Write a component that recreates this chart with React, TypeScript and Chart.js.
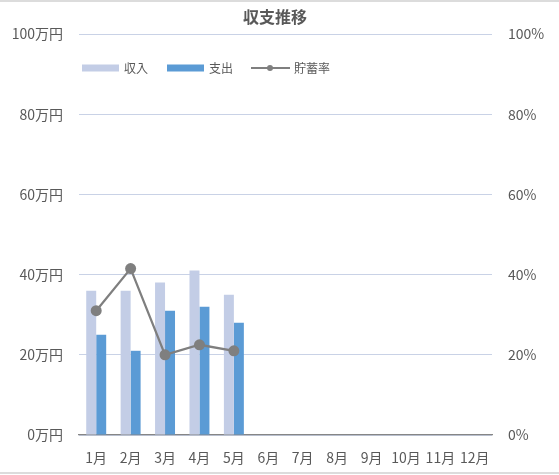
import React, { useEffect, useRef } from "react";
import { Chart, registerables } from "chart.js";

Chart.register(...registerables);

const categories = ["1月", "2月", "3月", "4月", "5月", "6月", "7月", "8月", "9月", "10月", "11月", "12月"];
const income = [36, 36, 38, 41, 35, null, null, null, null, null, null, null];
const expense = [25, 21, 31, 32, 28, null, null, null, null, null, null, null];
const savingsRate = [31, 41.5, 20, 22.5, 21, null, null, null, null, null, null, null];
const seriesNames = ["収入", "支出", "貯蓄率"];
const titleText = "収支推移";

const FONT = '"Noto Sans CJK JP", "Noto Sans", sans-serif';
const TEXT = "#595959";
const C_INCOME = "#c3cde6";
const C_EXPENSE = "#5b9bd5";
const C_LINE = "#7f7f7f";

const decorPlugin = {
  id: "decor",
  beforeDraw(chart: any) {
    const { ctx, width } = chart;
    ctx.save();
    ctx.fillStyle = "#ffffff";
    ctx.fillRect(0, 0, width, chart.height);
    ctx.strokeStyle = "#dcdcdc";
    ctx.lineWidth = 2;
    ctx.beginPath();
    ctx.moveTo(0, 1);
    ctx.lineTo(width, 1);
    ctx.moveTo(0, 473);
    ctx.lineTo(width, 473);
    ctx.stroke();
    ctx.restore();
  },
  afterDraw(chart: any) {
    const { ctx, chartArea } = chart;
    ctx.save();
    // title
    ctx.fillStyle = TEXT;
    ctx.font = `bold 16px ${FONT}`;
    ctx.textAlign = "center";
    ctx.textBaseline = "middle";
    ctx.fillText(titleText, 275, 17);
    // legend
    ctx.font = `12px ${FONT}`;
    ctx.textAlign = "left";
    const y = 68;
    let x = chartArea.left + 3;
    ctx.fillStyle = C_INCOME;
    ctx.fillRect(x, y - 3.5, 37, 7);
    ctx.fillStyle = TEXT;
    ctx.fillText(seriesNames[0], x + 42, y);
    x = chartArea.left + 88;
    ctx.fillStyle = C_EXPENSE;
    ctx.fillRect(x, y - 3.5, 37, 7);
    ctx.fillStyle = TEXT;
    ctx.fillText(seriesNames[1], x + 42, y);
    x = chartArea.left + 172;
    ctx.strokeStyle = C_LINE;
    ctx.lineWidth = 2;
    ctx.beginPath();
    ctx.moveTo(x, y);
    ctx.lineTo(x + 39, y);
    ctx.stroke();
    ctx.fillStyle = C_LINE;
    ctx.beginPath();
    ctx.arc(x + 19, y, 3, 0, Math.PI * 2);
    ctx.fill();
    ctx.fillStyle = TEXT;
    ctx.fillText(seriesNames[2], x + 43, y);
    ctx.restore();
  },
};

export default function App() {
  const ref = useRef<HTMLCanvasElement | null>(null);
  useEffect(() => {
    if (!ref.current) return;
    const chart = new Chart(ref.current, {
      type: "bar",
      data: {
        labels: categories,
        datasets: [
          {
            type: "line",
            label: seriesNames[2],
            data: savingsRate,
            yAxisID: "y1",
            borderColor: C_LINE,
            backgroundColor: C_LINE,
            borderWidth: 2.25,
            pointRadius: 5.5,
            pointBackgroundColor: C_LINE,
            pointBorderWidth: 0,
            order: 0,
          } as any,
          {
            label: seriesNames[0],
            data: income,
            backgroundColor: C_INCOME,
            yAxisID: "y",
            categoryPercentage: 0.58,
            barPercentage: 1,
            order: 1,
          },
          {
            label: seriesNames[1],
            data: expense,
            backgroundColor: C_EXPENSE,
            yAxisID: "y",
            categoryPercentage: 0.58,
            barPercentage: 1,
            order: 1,
          },
        ],
      },
      options: {
        animation: false,
        responsive: true,
        maintainAspectRatio: false,
        layout: { padding: { top: 34, left: 0, right: 0, bottom: 0 } },
        plugins: {
          legend: { display: false },
          title: { display: false },
          tooltip: { enabled: false },
        },
        scales: {
          x: {
            grid: { display: false, drawTicks: false },
            border: { color: "#868686", width: 1.25 },
            ticks: { color: TEXT, font: { family: FONT, size: 14 }, padding: 14, maxRotation: 0, autoSkip: false },
            afterFit(scale: any) {
              scale.height = 40;
            },
          },
          y: {
            position: "left",
            min: 0,
            max: 100,
            grid: { color: "#c9d2e6", lineWidth: 1, drawTicks: false },
            border: { display: false },
            ticks: {
              stepSize: 20,
              color: TEXT,
              font: { family: FONT, size: 14 },
              padding: 16,
              callback: (v: any) => `${v}万円`,
            },
            afterFit(scale: any) {
              scale.width = 79;
            },
          },
          y1: {
            position: "right",
            min: 0,
            max: 100,
            grid: { display: false, drawTicks: false },
            border: { display: false },
            ticks: {
              stepSize: 20,
              color: TEXT,
              font: { family: FONT, size: 14 },
              padding: 16,
              callback: (v: any) => `${v}%`,
            },
            afterFit(scale: any) {
              scale.width = 67;
            },
          },
        },
      },
      plugins: [decorPlugin],
    });
    return () => chart.destroy();
  }, []);
  return (
    <div style={{ position: "fixed", left: 0, top: 0, width: 559, height: 475, background: "#fff" }}>
      <canvas ref={ref} />
    </div>
  );
}
